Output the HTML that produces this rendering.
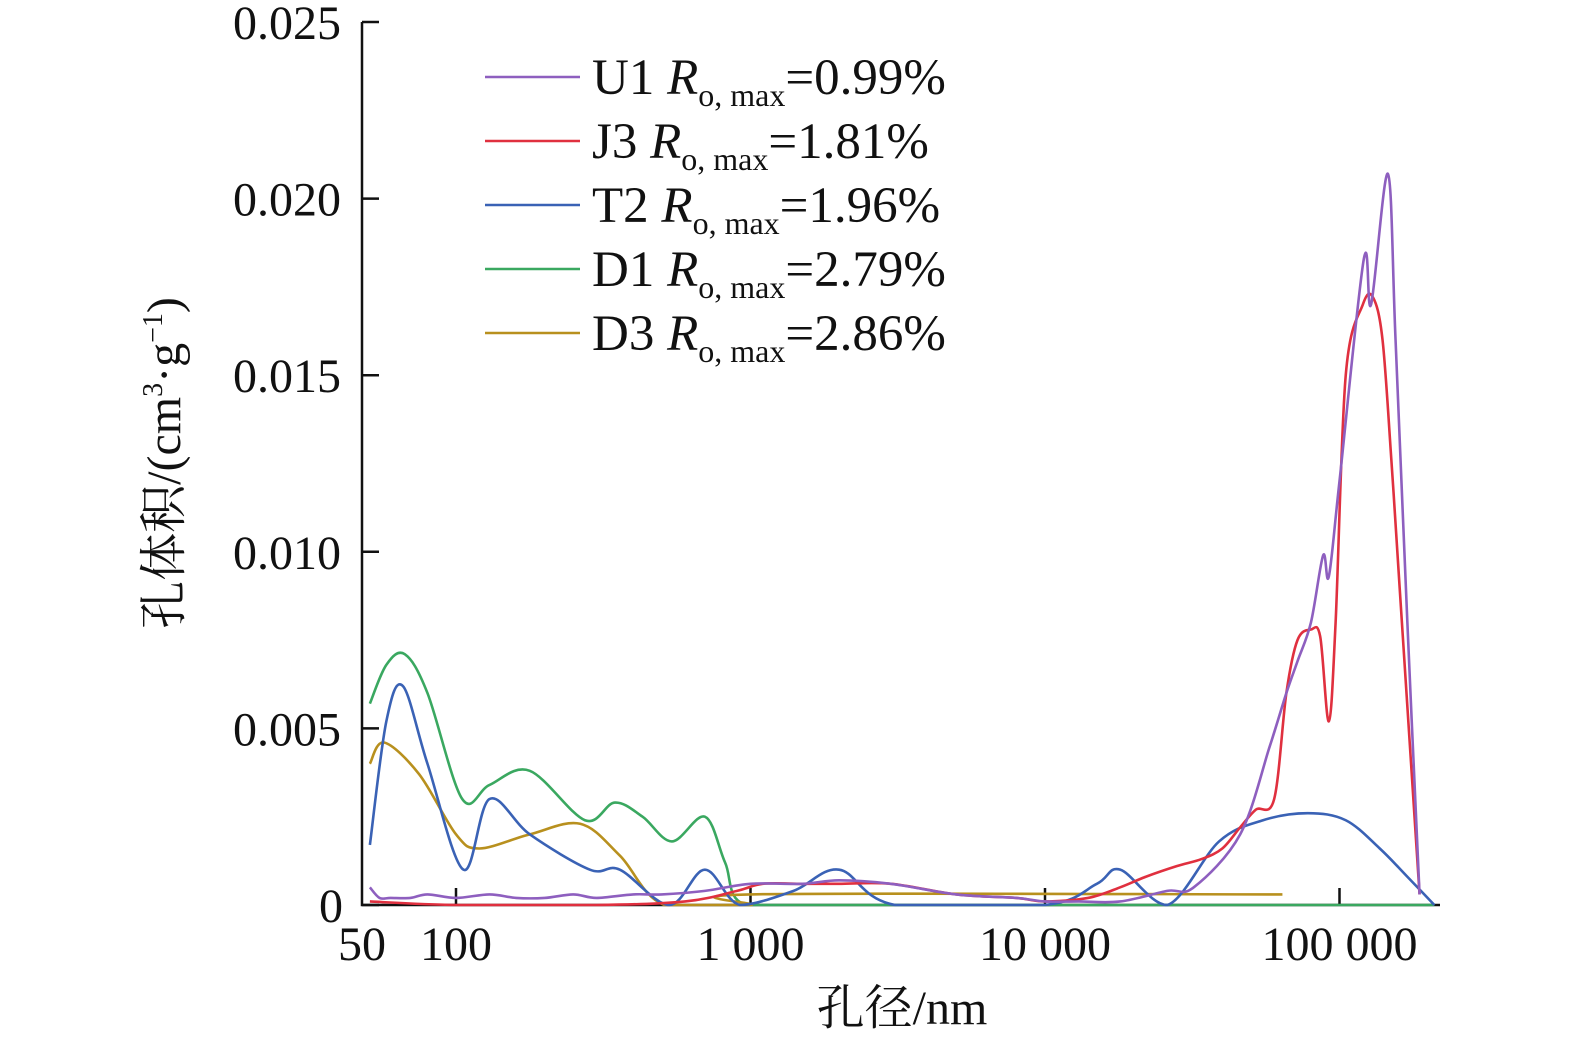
<!DOCTYPE html>
<html><head><meta charset="utf-8"><style>
html,body{margin:0;padding:0;background:#fff;}
svg text{font-family:"Liberation Serif","Noto Serif CJK SC",serif;fill:#111;}
</style></head><body>
<svg id="chart" width="1575" height="1047" viewBox="0 0 1575 1047" xmlns="http://www.w3.org/2000/svg">
<g id="axes"></g>
<g id="series"></g>
<g id="legend"></g>
<text transform="translate(180,463) rotate(-90)" text-anchor="middle" font-size="48">孔体积/(cm<tspan font-size="28" dy="-18">3</tspan><tspan dy="18">·g</tspan><tspan font-size="28" dy="-18">−1</tspan><tspan dy="18">)</tspan></text>
<text x="902" y="1024" text-anchor="middle" font-size="48">孔径/nm</text>
</svg>
<script>
const xTicks=[100,1000,10000,100000];
const xTickLabels=["100","1 000","10 000","100 000"];
const yTicks=[0,0.005,0.010,0.015,0.020,0.025];
const yTickLabels=["0","0.005","0.010","0.015","0.020","0.025"];
const seriesNames=["U1","J3","T2","D1","D3"];
const seriesRo=["0.99%","1.81%","1.96%","2.79%","2.86%"];
const seriesColors=["#8e5fbf","#e0303f","#3a62b5","#3aa860","#b8901e"];
const u1X=[51,55,60,70,80,100,130,160,200,250,300,400,500,700,1000,1500,2000,3000,5000,8000,10000,13000,18000,26000,32000,46000,58000,66000,72000,80000,88000,92000,100000,121000,128000,146000,155000,170000,187000];
const u1Y=[0.0005,0.0002,0.0002,0.0002,0.0003,0.0002,0.0003,0.0002,0.0002,0.0003,0.0002,0.0003,0.0003,0.0004,0.0006,0.0006,0.0007,0.0006,0.0003,0.0002,0.0001,0.0001,0.0001,0.0004,0.0005,0.0020,0.0045,0.0060,0.0069,0.0080,0.0099,0.0093,0.0120,0.0183,0.0170,0.0207,0.0160,0.0080,0.0003];
const j3X=[51,100,300,600,900,1100,1500,2000,3000,5000,8000,10000,14000,18000,22000,28000,34000,40000,46000,52000,60000,66000,72000,80000,86000,92000,97000,105000,120000,130000,140000,150000,160000,175000,187000];
const j3Y=[0.0001,0,0,0.0001,0.0004,0.0006,0.0006,0.0006,0.0006,0.0003,0.0002,0.0001,0.0002,0.0005,0.0008,0.0011,0.0013,0.0016,0.0022,0.0027,0.0030,0.0060,0.0075,0.0078,0.0076,0.0052,0.0080,0.0150,0.0170,0.0172,0.0160,0.0126,0.0090,0.0040,0.0003];
const t2X=[51,58,66,80,106,130,178,285,360,530,700,920,1400,2000,3100,10000,15000,18000,26000,39000,55000,78000,105000,137000,170000,210000];
const t2Y=[0.0017,0.0052,0.0062,0.0040,0.0010,0.0030,0.0020,0.0010,0.0010,0,0.0010,0,0.0004,0.0010,0,0,0.0006,0.0010,0,0.0018,0.0024,0.0026,0.0024,0.0016,0.0008,0];
const d1X=[51,58,67,80,105,130,178,274,346,430,541,700,820,960,2000,10000,100000,210000];
const d1Y=[0.0057,0.0068,0.0071,0.0060,0.0030,0.0034,0.0038,0.0024,0.0029,0.0025,0.0018,0.0025,0.0012,0,0,0,0,0];
const d3X=[51,57,75,100,120,178,264,360,510,1000,1001,64000];
const d3Y=[0.0040,0.0046,0.0037,0.0020,0.0016,0.0020,0.0023,0.0014,0,0,0.0003,0.0003];
const allX=[u1X,j3X,t2X,d1X,d3X], allY=[u1Y,j3Y,t2Y,d1Y,d3Y];
const NS="http://www.w3.org/2000/svg";
const X0=362,X1=1440,Y0=905,Y1=22;
function xs(v){return 456+(Math.log10(v)-2)*294.5;}
function ys(v){return Y0-(v/0.025)*(Y0-Y1);}
function mk(tag,attrs,parent){const e=document.createElementNS(NS,tag);for(const k in attrs)e.setAttribute(k,attrs[k]);parent.appendChild(e);return e;}
const axes=document.getElementById('axes');
let a=mk('path',{d:`M${X0},${Y1}V${Y0}H${X1}`,fill:'none',stroke:'#111','stroke-width':2.5},axes);


yTicks.forEach((v,i)=>{const y=ys(v);
 const t=mk('line',{x1:X0,x2:X0+17,y1:y,y2:y,stroke:'#111','stroke-width':2.5},axes);
 
 
 const l=mk('text',{x:i==0?343:341,y:y+17,'text-anchor':'end','font-size':48},axes);
 l.textContent=yTickLabels[i];
 
 });
xTicks.forEach((v,i)=>{const x=xs(v);
 const t=mk('line',{x1:x,x2:x,y1:Y0,y2:Y0-17,stroke:'#111','stroke-width':2.5},axes);
 
 
 const l=mk('text',{x:x,y:960,'text-anchor':'middle','font-size':48},axes);
 l.textContent=xTickLabels[i];
 
 });
let l50=mk('text',{x:362,y:960,'text-anchor':'middle','font-size':48},axes);
l50.textContent="50";


function smooth(pts){let d=`M${pts[0][0]},${pts[0][1]}`;
 for(let i=0;i<pts.length-1;i++){const p0=pts[Math.max(0,i-1)],p1=pts[i],p2=pts[i+1],p3=pts[Math.min(pts.length-1,i+2)];
  const c1=[p1[0]+(p2[0]-p0[0])/6,p1[1]+(p2[1]-p0[1])/6],c2=[p2[0]-(p3[0]-p1[0])/6,p2[1]-(p3[1]-p1[1])/6];
  d+=`C${c1[0]},${Math.min(Y0,c1[1])},${c2[0]},${Math.min(Y0,c2[1])},${p2[0]},${p2[1]}`;}
 return d;}
const sg=document.getElementById('series');
[3,4,2,1,0].forEach(s=>{const pts=allX[s].map((x,i)=>[xs(x),ys(allY[s][i])]);
 const p=mk('path',{d:smooth(pts),fill:'none',stroke:seriesColors[s],'stroke-width':2.6,'stroke-linejoin':'round'},sg);
 
 });
const lg=document.getElementById('legend');
seriesNames.forEach((n,i)=>{const y=77+i*64;
 const g=mk('g',{},lg);
 
 
 mk('line',{x1:485,x2:580,y1:y,y2:y,stroke:seriesColors[i],'stroke-width':2.6},g);
 const t=mk('text',{x:592,y:y+17,'font-size':51},g);
 t.innerHTML=`${n} <tspan font-style="italic">R</tspan><tspan font-size="32" dy="12">o, max</tspan><tspan dy="-12">=${seriesRo[i]}</tspan>`;});
</script>
</body></html>
